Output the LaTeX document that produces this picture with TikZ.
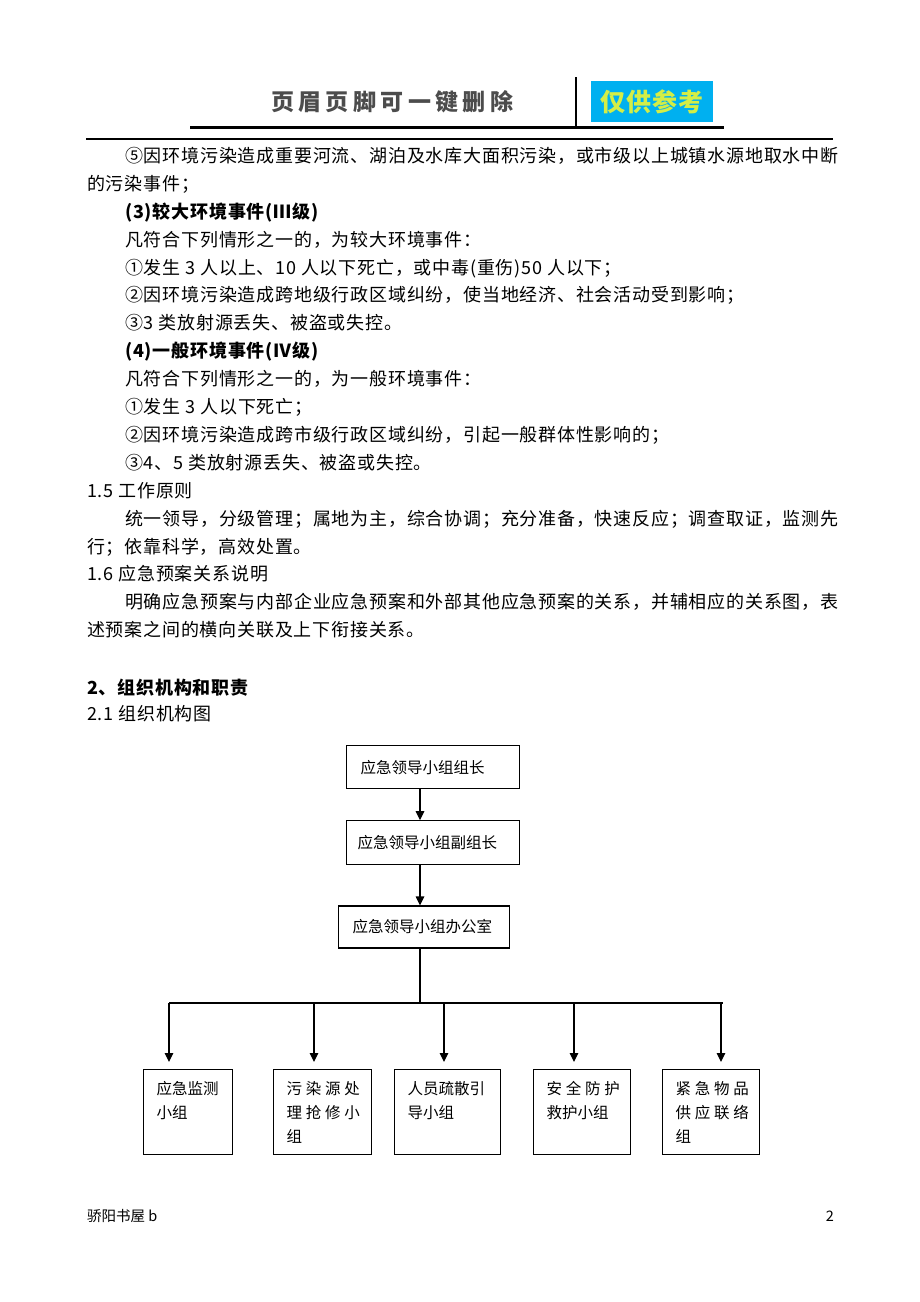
\documentclass[tikz,border=0pt]{standalone}
\usepackage{fontspec}
\setmainfont{Noto Sans CJK SC}
\newfontfamily\bodyfont{Noto Sans CJK SC}[LetterSpace=4.4]
\newfontfamily\chartfont{Noto Sans CJK SC}
\newfontfamily\widefont{Noto Sans CJK SC}[LetterSpace=24.5]
\newfontfamily\headfont{Noto Sans CJK SC}[LetterSpace=19]
\newfontfamily\tagfont{Noto Sans CJK SC}[LetterSpace=5]
\usetikzlibrary{positioning,arrows.meta}
\definecolor{tagblue}{RGB}{0,176,240}
\definecolor{taggreen}{RGB}{212,238,70}
\newcommand{\grptext}[2]{\parbox[t][85pt][t]{#1}{\fontsize{15.5}{24}\selectfont\leftskip=13pt\rule{0pt}{25pt}#2}}

\begin{document}
\begin{tikzpicture}[x=1pt, y=-1pt, every node/.style={inner sep=0pt},
	txt/.style={anchor=west, font=\bodyfont\fontsize{18}{21}\selectfont, text height=15.8pt, text depth=2.2pt},
	head/.style={txt, font=\bodyfont\bfseries\fontsize{18}{21}\selectfont},
	lead/.style={draw, line width=1.2pt, anchor=north west, minimum height=43pt, align=left, font=\chartfont\fontsize{15.5}{18}\selectfont},
	grp/.style={draw, line width=1.2pt, anchor=north west, font=\chartfont},
	link/.style={line width=1.2pt},
	arr/.style={link, -{Triangle[width=8.5pt,length=9pt]}}]
	\path[fill=white, use as bounding box] (0,0) rectangle (920,1302);

	\node[anchor=west, text=black!70, font=\headfont\bfseries\fontsize{23}{26}\selectfont](banner) at (271,102) {页眉页脚可一键删除};
	\node[fill=tagblue, minimum width=122pt, minimum height=41pt, text=taggreen, font=\tagfont\bfseries\fontsize{25}{28}\selectfont](tag) at (652,101.5) {仅供参考};
	\draw[line width=2pt] (576,77) -- (576,127);
	\draw[line width=3pt] (190,127) -- (724,127);
	\draw[line width=1.1pt] (86,139) -- (833,139);

	\node[txt](item5) at (125,156) {⑤因环境污染造成重要河流、湖泊及水库大面积污染，或市级以上城镇水源地取水中断};
	\node[txt](item5b) at (87,184) {的污染事件；};
	\node[head](lvl3) at (125,212) {(3)较大环境事件(Ⅲ级)};
	\node[txt](lvl3a) at (125,240) {凡符合下列情形之一的，为较大环境事件：};
	\node[txt](lvl3b) at (125,268) {①发生 3 人以上、10 人以下死亡，或中毒(重伤)50 人以下；};
	\node[txt](lvl3c) at (125,295) {②因环境污染造成跨地级行政区域纠纷，使当地经济、社会活动受到影响；};
	\node[txt](lvl3d) at (125,323) {③3 类放射源丢失、被盗或失控。};
	\node[head](lvl4) at (125,351) {(4)一般环境事件(Ⅳ级)};
	\node[txt](lvl4a) at (125,379) {凡符合下列情形之一的，为一般环境事件：};
	\node[txt](lvl4b) at (125,407) {①发生 3 人以下死亡；};
	\node[txt](lvl4c) at (125,435) {②因环境污染造成跨市级行政区域纠纷，引起一般群体性影响的；};
	\node[txt](lvl4d) at (125,463) {③4、5 类放射源丢失、被盗或失控。};
	\node[txt](sec15) at (87,491) {1.5 工作原则};
	\node[txt](sec15a) at (125,519) {统一领导，分级管理；属地为主，综合协调；充分准备，快速反应；调查取证，监测先};
	\node[txt](sec15b) at (87,547) {行；依靠科学，高效处置。};
	\node[txt](sec16) at (87,574) {1.6 应急预案关系说明};
	\node[txt](sec16a) at (125,602) {明确应急预案与内部企业应急预案和外部其他应急预案的关系，并辅相应的关系图，表};
	\node[txt](sec16b) at (87,630) {述预案之间的横向关联及上下衔接关系。};
	\node[head](sec2) at (87,688) {2、组织机构和职责};
	\node[txt](sec21) at (87,714) {2.1 组织机构图};

	\node[lead, text width=145pt, inner xsep=14pt, minimum width=173pt](chief) at (346,745) {应急领导小组组长};
	\node[lead, text width=151pt, inner xsep=11pt, minimum height=44pt, below=31pt of chief.south west, anchor=north west](deputy) {应急领导小组副组长};
	\node[lead, text width=143pt, inner xsep=14pt, minimum height=42pt, below=40pt of deputy.south west, anchor=north west, xshift=-8pt](office) {应急领导小组办公室};

	\node[grp](monitor) at (143,1069) {\grptext{89pt}{应急监测\\小组}};
	\node[grp](repair) at (273,1069) {\grptext{98pt}{{\widefont 污染源处\\理抢修小}\\组}};
	\node[grp](evac) at (394,1069) {\grptext{106pt}{人员疏散引\\导小组}};
	\node[grp](guard) at (533,1069) {\grptext{97pt}{{\widefont 安全防护}\\救护小组}};
	\node[grp](supply) at (662,1069) {\grptext{97pt}{{\widefont 紧急物品\\供应联络}\\组}};

	\coordinate (spine) at (420,0);
	\coordinate (busL) at (169,1003);
	\coordinate (busR) at (723,1003);
	\draw[arr] (chief.south -| spine) -- (deputy.north -| spine);
	\draw[arr] (deputy.south -| spine) -- (office.north -| spine);
	\draw[link] (office.south -| spine) -- (spine |- busL);
	\draw[link] (busL) -- (busR);
	\foreach \t/\x in {monitor/169, repair/314, evac/444, guard/574, supply/721} {
		\coordinate (\t-in) at (\x,1062);
		\draw[arr] (busL -| \t-in) -- (\t-in);
	}

	\node[anchor=west, font=\chartfont\fontsize{14.5}{16}\selectfont](corner) at (87,1216) {骄阳书屋 b};
	\node[anchor=east, font=\chartfont\fontsize{14.5}{16}\selectfont](pageno) at (834,1216) {2};
\end{tikzpicture}
\end{document}
